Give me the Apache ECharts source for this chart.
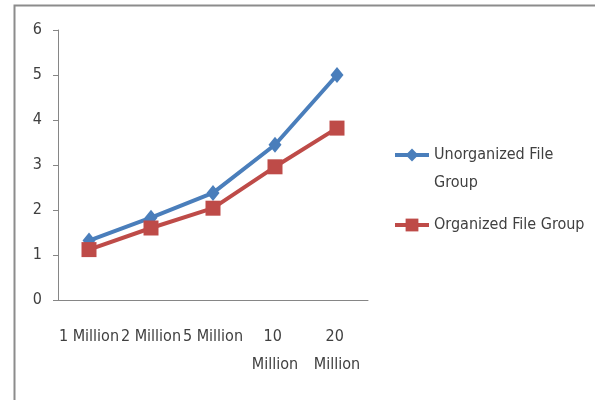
<!DOCTYPE html>
<html><head><meta charset="utf-8">
<script src="https://cdn.jsdelivr.net/npm/echarts@6/dist/echarts.min.js"></script>
<style>html,body{margin:0;padding:0;background:#fff}#c{width:595px;height:400px}</style>
</head><body><div id="c"></div>
<script>
const categories = ['1 Million', '2 Million', '5 Million', '10 Million', '20 Million'];
const unorganized = [1.32, 1.83, 2.38, 3.45, 5.0];
const organized = [1.12, 1.6, 2.04, 2.96, 3.82];
const yTicks = [0, 1, 2, 3, 4, 5, 6];
const seriesNames = ['Unorganized File Group', 'Organized File Group'];

const FONT = "'Liberation Sans Narrow', 'DejaVu Sans Condensed', sans-serif";
const TXT = '#404040';
const chart = echarts.init(document.getElementById('c'), null, {renderer: 'canvas'});
chart.setOption({
  animation: false,
  graphic: [{type: 'rect', left: 12, top: 3, shape: {width: 700, height: 500}, style: {fill: 'none', stroke: '#8c8c8c', lineWidth: 2}}],
  grid: {left: 58, top: 30, right: 227, bottom: 100},
  legend: [
    {data: [seriesNames[0]], orient: 'vertical', left: 393, top: 113, padding: 0, itemWidth: 34, itemHeight: 16,
     lineStyle: {width: 4}, formatter: n => '\n' + n,
     textStyle: {fontFamily: FONT, fontSize: 16, color: TXT, lineHeight: 28, width: 146, overflow: 'break'}},
    {data: [seriesNames[1]], orient: 'vertical', left: 393, top: 211, padding: 0, itemWidth: 34, itemHeight: 16,
     lineStyle: {width: 4},
     textStyle: {fontFamily: FONT, fontSize: 16, color: TXT, lineHeight: 28}}
  ],
  xAxis: {type: 'category', data: categories, boundaryGap: true,
    axisLine: {lineStyle: {color: '#868686', width: 1}},
    axisTick: {length: 5, lineStyle: {color: '#868686'}},
    axisLabel: {interval: 0, margin: 23, fontFamily: FONT, fontSize: 16, color: TXT, lineHeight: 28, width: 62, overflow: 'break'}},
  yAxis: {type: 'value', min: yTicks[0], max: yTicks[yTicks.length - 1], interval: 1,
    splitLine: {show: false},
    axisLine: {show: true, lineStyle: {color: '#868686', width: 1}},
    axisTick: {show: true, length: 5, lineStyle: {color: '#868686'}},
    axisLabel: {margin: 16, fontFamily: FONT, fontSize: 16, color: TXT}},
  series: [
    {name: seriesNames[0], type: 'line', data: unorganized, symbol: 'diamond', symbolSize: [13, 16],
     itemStyle: {color: '#4a7ebb'}, lineStyle: {width: 4, color: '#4a7ebb'}},
    {name: seriesNames[1], type: 'line', data: organized, symbol: 'rect', symbolSize: 15,
     itemStyle: {color: '#be4b48'}, lineStyle: {width: 4, color: '#be4b48'}}
  ]
});
</script></body></html>
